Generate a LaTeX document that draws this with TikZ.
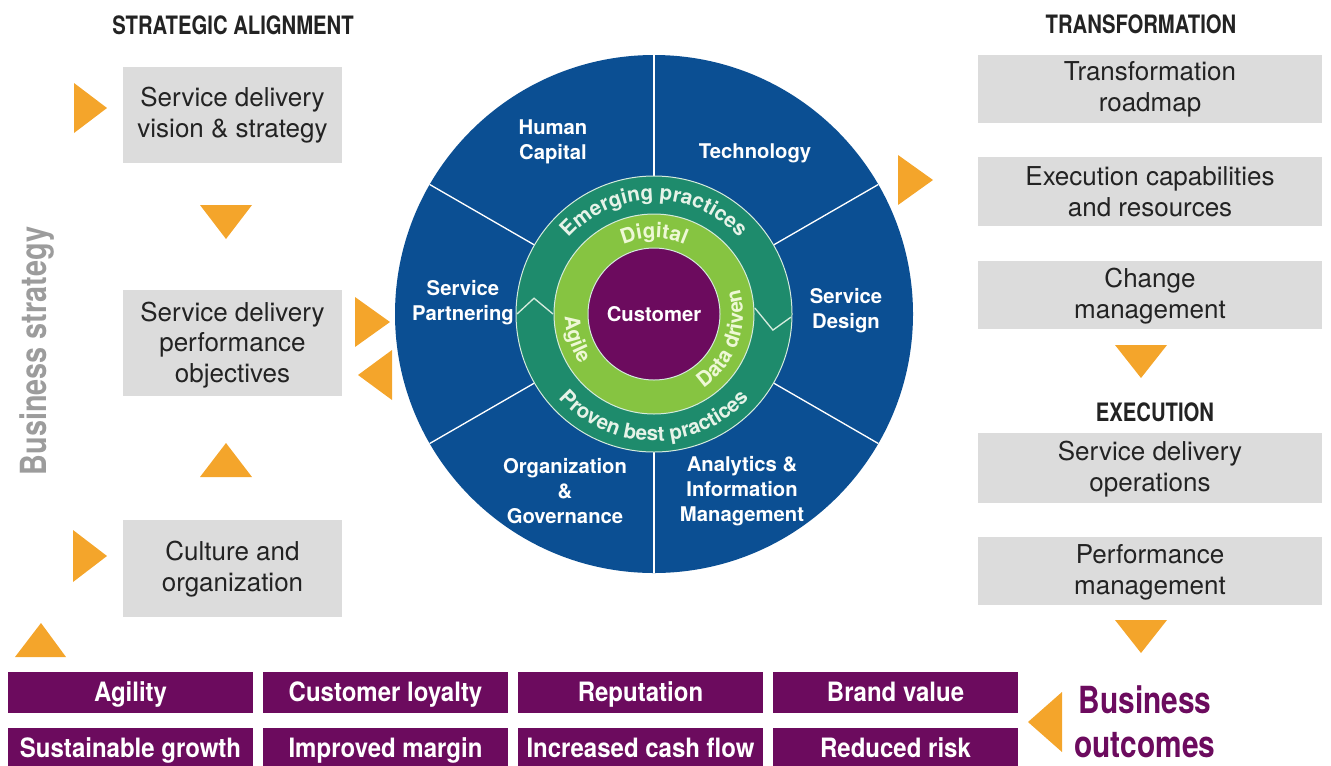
\documentclass[tikz,border=0pt]{standalone}
\usepackage{fontspec}
\setmainfont{TeX Gyre Heros}
\newfontfamily\condfont[FakeStretch=0.8]{TeX Gyre Heros}
\newfontfamily\widecondfont[FakeStretch=0.9]{TeX Gyre Heros}
\usetikzlibrary{decorations.text}

\definecolor{wheelblue}{HTML}{0B4F93}
\definecolor{ringgreen}{HTML}{1E8B6C}
\definecolor{ringlight}{HTML}{86C441}
\definecolor{custpurple}{HTML}{6C0B5E}
\definecolor{arroworange}{HTML}{F4A52B}
\definecolor{boxgray}{HTML}{DCDCDC}
\definecolor{stratgray}{HTML}{9C9C9C}
\definecolor{ringline}{HTML}{D5EBDD}
\definecolor{outertext}{HTML}{E6F3E8}
\definecolor{innertext}{HTML}{EEF8D6}
\definecolor{boxink}{HTML}{232323}

\newcommand\ringfont{\bfseries\fontsize{15.5}{15.5}\selectfont}

\tikzset{every picture/.style={line width=0.75pt}}

\begin{document}
\begin{tikzpicture}[x=0.75pt,y=0.75pt,yscale=-1,xscale=1,
  graybox/.style={fill=boxgray,draw=none},
  boxtext/.style={inner sep=0.75pt,align=center,text=boxink,font=\fontsize{19.5}{23}\selectfont},
  headtext/.style={inner sep=0.75pt,text=boxink,font=\condfont\bfseries\fontsize{19}{22}\selectfont},
  tri/.style={fill=arroworange,draw=none},
  outcome/.style={fill=custpurple,draw=none},
  outcometext/.style={inner sep=0pt,anchor=base,text=white,font=\widecondfont\bfseries\fontsize{20}{22}\selectfont},
  sectortext/.style={inner sep=0.75pt,align=center,text=white,font=\bfseries\fontsize{15.2}{18.75}\selectfont}]
\useasboundingbox (0,0) rectangle (1331,765);

%Shape: Wheel
\begin{scope}[shift={(654,314)},yscale=-1]
\fill [wheelblue] (0,0) circle (259);
\foreach \a in {30,90,...,330}
  \draw [white,line width=1pt] (\a:138) -- (\a:259);
\fill [ringgreen] (0,0) circle (138);
\draw [ringline] (0,0) circle (138);
\fill [ringlight] (0,0) circle (100);
\draw [ringline] (0,0) circle (100);
\fill [custpurple] (0,0) circle (66);
\draw [ringline] (0,0) circle (66);
%Chevrons
\draw [ringline,line width=1pt] (180:137) -- (172.5:121) -- (180:101);
\draw [ringline,line width=1pt] (-1.3:137) -- (-7.7:120) -- (3.4:101);
%Curved texts
\path [decorate,decoration={text along path,text align=center,
  text={|\ringfont\color{outertext}|Emerging practices}}] (155:114) arc (155:25:114);
\path [decorate,decoration={text along path,text align=center,
  text={|\ringfont\color{outertext}|Proven best practices}}] (200:127) arc (200:340:127);
\path [decorate,decoration={text along path,text align=center,
  text={|\ringfont\color{innertext}|Digital}}] (128:76) arc (128:52:76);
\path [decorate,decoration={text along path,text align=center,
  text={|\ringfont\color{innertext}|Agile}}] (165:89) arc (165:231:89);
\path [decorate,decoration={text along path,text align=center,
  text={|\ringfont\color{innertext}|Data driven}}] (-80:89) arc (-80:40:89);
\end{scope}

% Text Node
\draw (654,314) node [sectortext] (customer) {Customer};
% Text Node
\draw (553,142) node [sectortext] (human) {Human\\Capital};
% Text Node
\draw (755,153) node [sectortext] (tech) {Technology};
% Text Node
\draw (846,311) node [sectortext] (design) {Service\\Design};
% Text Node
\draw (463,303) node [sectortext] (partner) {Service\\Partnering};
% Text Node
\draw (565,491) node [sectortext] (governance) {Organization\\\&\\Governance};
% Text Node
\draw (742,491) node [sectortext] (analytics) {Analytics \&\\Information\\Management};

%Shape: Rectangle
\draw [graybox] (123,67) rectangle (342,163);
\draw [graybox] (123,290) rectangle (342,396);
\draw [graybox] (123,520) rectangle (342,617);
\draw [graybox] (978,55) rectangle (1322,123);
\draw [graybox] (978,157) rectangle (1322,226);
\draw [graybox] (978,261) rectangle (1322,329);
\draw [graybox] (978,433) rectangle (1322,503);
\draw [graybox] (978,537) rectangle (1322,605);

% Text Node
\draw (232.5,115) node [boxtext] (vision) {Service delivery\\vision \& strategy};
% Text Node
\draw (232.5,345) node [boxtext] (objectives) {Service delivery\\performance\\objectives};
% Text Node
\draw (232.5,569) node [boxtext] (culture) {Culture and\\organization};
% Text Node
\draw (1150,89) node [boxtext] (roadmap) {Transformation\\roadmap};
% Text Node
\draw (1150,192) node [boxtext] (capabilities) {Execution capabilities\\and resources};
% Text Node
\draw (1150,296) node [boxtext] (change) {Change\\management};
% Text Node
\draw (1150,469) node [boxtext] (operations) {Service delivery\\operations};
% Text Node
\draw (1150,572) node [boxtext] (perfmgmt) {Performance\\management};

% Text Node
\draw (233,25) node [headtext] (alignment) {STRATEGIC ALIGNMENT};
% Text Node
\draw (1141,24) node [headtext] (transformation) {TRANSFORMATION};
% Text Node
\draw (1155,412) node [headtext] (execution) {EXECUTION};
% Text Node
\draw (37,351) node [rotate=90,inner sep=0.75pt,text=stratgray,font=\condfont\bfseries\fontsize{27}{30}\selectfont] (strategy) {Business strategy};

%Shape: Triangle
\draw [tri] (74,83) -- (107,108) -- (74,133) -- cycle;
\draw [tri] (200,205) -- (252,205) -- (226,239) -- cycle;
\draw [tri] (200,477) -- (252,477) -- (226,443) -- cycle;
\draw [tri] (73,530) -- (107,556) -- (73,582) -- cycle;
\draw [tri] (15,657) -- (66,657) -- (41,623) -- cycle;
\draw [tri] (355,297) -- (390,322) -- (355,347) -- cycle;
\draw [tri] (392,350) -- (358,375) -- (392,400) -- cycle;
\draw [tri] (898,155) -- (933,180) -- (898,205) -- cycle;
\draw [tri] (1115,345) -- (1167,345) -- (1141,378) -- cycle;
\draw [tri] (1115,620) -- (1167,620) -- (1141,653) -- cycle;
\draw [tri] (1062,692) -- (1028,722) -- (1062,752) -- cycle;

%Shape: Outcome boxes
\draw [outcome] (8,672) rectangle (253,713);
\draw [outcome] (263,672) rectangle (508,713);
\draw [outcome] (518,672) rectangle (763,713);
\draw [outcome] (773,672) rectangle (1018,713);
\draw [outcome] (8,728) rectangle (253,770);
\draw [outcome] (263,728) rectangle (508,770);
\draw [outcome] (518,728) rectangle (763,770);
\draw [outcome] (773,728) rectangle (1018,770);

% Text Node
\draw (130.5,701) node [outcometext] (agility) {Agility};
% Text Node
\draw (385.5,701) node [outcometext] (loyalty) {Customer loyalty};
% Text Node
\draw (640.5,701) node [outcometext] (reputation) {Reputation};
% Text Node
\draw (895.5,701) node [outcometext] (brand) {Brand value};
% Text Node
\draw (130.5,757) node [outcometext] (growth) {Sustainable growth};
% Text Node
\draw (385.5,757) node [outcometext] (margin) {Improved margin};
% Text Node
\draw (640.5,757) node [outcometext] (cashflow) {Increased cash flow};
% Text Node
\draw (895.5,757) node [outcometext] (risk) {Reduced risk};
% Text Node
\draw (1145,722) node [inner sep=0.75pt,align=center,text=custpurple,font=\condfont\bfseries\fontsize{28}{33}\selectfont] (outcomes) {Business\\outcomes};

\end{tikzpicture}
\end{document}
